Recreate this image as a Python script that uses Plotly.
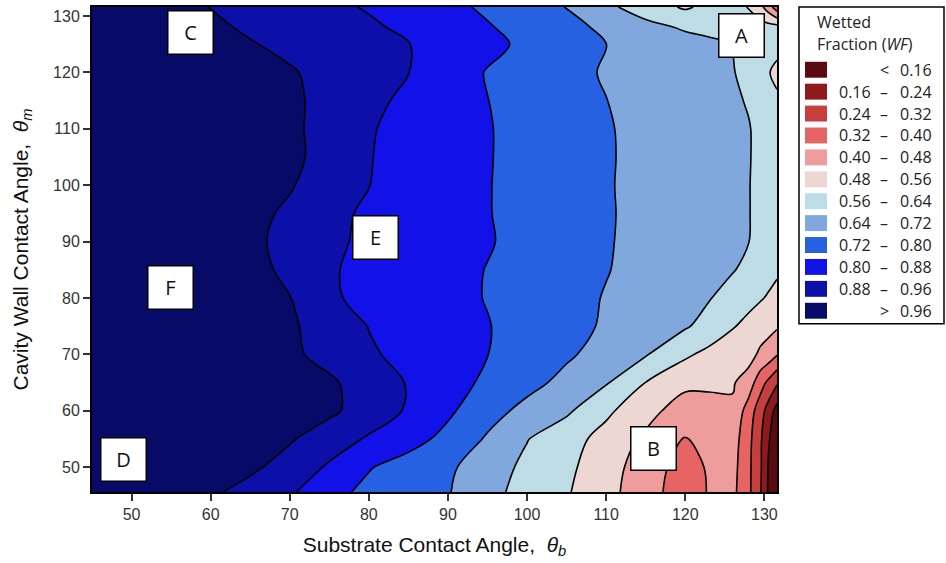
import plotly.graph_objects as go

# ---------------- data ----------------
theta_b = [45, 50, 55, 60, 65, 70, 75, 80, 85, 90, 95, 100, 105, 110, 115,
           120, 123, 126, 128, 129.5, 130.5, 131.6]
theta_m = [45.6, 50, 55, 60, 65, 70, 75, 80, 85, 90, 95, 100, 105, 110, 115,
           120, 125, 128, 131.6]

wf_45_6 = [0.998, 0.993, 0.985, 0.973, 0.932, 0.891, 0.825, 0.781, 0.753, 0.725, 0.664, 0.612, 0.567, 0.507, 0.431, 0.360, 0.405, 0.420, 0.337, 0.247, 0.151, 0.100]
wf_50 = [1.000, 0.998, 0.995, 0.988, 0.975, 0.928, 0.870, 0.805, 0.768, 0.733, 0.679, 0.622, 0.576, 0.517, 0.437, 0.370, 0.408, 0.427, 0.338, 0.252, 0.155, 0.100]
wf_55 = [1.000, 0.999, 0.997, 0.992, 0.982, 0.968, 0.919, 0.871, 0.829, 0.778, 0.711, 0.643, 0.591, 0.533, 0.465, 0.395, 0.430, 0.438, 0.344, 0.253, 0.169, 0.110]
wf_60 = [1.000, 1.000, 0.998, 0.995, 0.990, 0.985, 0.975, 0.924, 0.871, 0.813, 0.750, 0.697, 0.653, 0.575, 0.508, 0.440, 0.450, 0.469, 0.363, 0.277, 0.208, 0.130]
wf_65 = [1.000, 1.000, 0.999, 0.997, 0.993, 0.985, 0.972, 0.924, 0.875, 0.830, 0.786, 0.744, 0.698, 0.647, 0.559, 0.500, 0.495, 0.487, 0.445, 0.351, 0.304, 0.250]
wf_70 = [1.000, 1.000, 0.999, 0.995, 0.988, 0.975, 0.935, 0.890, 0.858, 0.829, 0.801, 0.766, 0.731, 0.690, 0.646, 0.573, 0.539, 0.509, 0.510, 0.465, 0.445, 0.405]
wf_75 = [1.000, 1.000, 0.999, 0.996, 0.988, 0.972, 0.923, 0.878, 0.853, 0.828, 0.803, 0.773, 0.742, 0.712, 0.680, 0.648, 0.613, 0.566, 0.538, 0.518, 0.505, 0.490]
wf_80 = [1.000, 1.000, 0.999, 0.996, 0.988, 0.962, 0.888, 0.865, 0.843, 0.820, 0.797, 0.770, 0.743, 0.716, 0.688, 0.661, 0.644, 0.611, 0.585, 0.566, 0.553, 0.540]
wf_85 = [1.000, 1.000, 0.999, 0.995, 0.982, 0.945, 0.886, 0.864, 0.842, 0.820, 0.798, 0.773, 0.748, 0.723, 0.698, 0.674, 0.659, 0.644, 0.624, 0.601, 0.586, 0.570]
wf_90 = [1.000, 1.000, 0.998, 0.993, 0.976, 0.938, 0.891, 0.869, 0.848, 0.827, 0.805, 0.780, 0.752, 0.725, 0.701, 0.678, 0.664, 0.650, 0.641, 0.625, 0.613, 0.600]
wf_95 = [1.000, 1.000, 0.998, 0.993, 0.980, 0.948, 0.895, 0.871, 0.849, 0.826, 0.803, 0.777, 0.752, 0.726, 0.702, 0.679, 0.665, 0.651, 0.642, 0.627, 0.614, 0.600]
wf_100 = [1.000, 1.000, 0.998, 0.994, 0.985, 0.966, 0.923, 0.881, 0.854, 0.829, 0.803, 0.777, 0.751, 0.725, 0.702, 0.679, 0.665, 0.651, 0.642, 0.627, 0.614, 0.600]
wf_105 = [1.000, 1.000, 0.998, 0.994, 0.986, 0.978, 0.932, 0.883, 0.856, 0.830, 0.804, 0.777, 0.752, 0.726, 0.702, 0.680, 0.666, 0.652, 0.643, 0.628, 0.614, 0.600]
wf_110 = [1.000, 1.000, 0.998, 0.994, 0.986, 0.976, 0.932, 0.886, 0.857, 0.830, 0.804, 0.777, 0.751, 0.725, 0.702, 0.679, 0.665, 0.651, 0.643, 0.627, 0.614, 0.600]
wf_115 = [1.000, 1.000, 0.998, 0.994, 0.986, 0.975, 0.936, 0.899, 0.864, 0.832, 0.801, 0.774, 0.748, 0.721, 0.698, 0.676, 0.662, 0.648, 0.636, 0.609, 0.590, 0.570]
wf_120 = [1.000, 1.000, 0.998, 0.993, 0.982, 0.967, 0.937, 0.909, 0.881, 0.837, 0.796, 0.768, 0.740, 0.714, 0.692, 0.670, 0.657, 0.644, 0.618, 0.586, 0.564, 0.545]
wf_125 = [1.000, 1.000, 0.995, 0.985, 0.965, 0.942, 0.922, 0.902, 0.882, 0.850, 0.818, 0.786, 0.754, 0.721, 0.696, 0.670, 0.655, 0.639, 0.620, 0.600, 0.590, 0.580]
wf_128 = [1.000, 0.998, 0.990, 0.975, 0.949, 0.930, 0.910, 0.891, 0.866, 0.836, 0.806, 0.773, 0.741, 0.706, 0.665, 0.630, 0.620, 0.610, 0.600, 0.595, 0.590, 0.590]
wf_131_6 = [1.000, 0.998, 0.990, 0.958, 0.937, 0.917, 0.896, 0.874, 0.846, 0.818, 0.788, 0.753, 0.718, 0.658, 0.600, 0.550, 0.580, 0.575, 0.558, 0.500, 0.440, 0.350]

wf = [wf_45_6, wf_50, wf_55, wf_60, wf_65, wf_70, wf_75, wf_80, wf_85, wf_90,
      wf_95, wf_100, wf_105, wf_110, wf_115, wf_120, wf_125, wf_128, wf_131_6]

levels = [0.16, 0.24, 0.32, 0.40, 0.48, 0.56, 0.64, 0.72, 0.80, 0.88, 0.96]
band_colors = ['#5c0a10', '#8e1a1e', '#c63e3e', '#e66464', '#ee9c9c', '#ecd7d2',
               '#bddce6', '#80a8dc', '#2561e0', '#1212e8', '#0c10a8', '#080a68']
legend_left = ['', '0.16', '0.24', '0.32', '0.40', '0.48', '0.56', '0.64', '0.72', '0.80', '0.88', '']
legend_mid = ['<', '–', '–', '–', '–', '–', '–', '–', '–', '–', '–', '>']
legend_right = ['0.16', '0.24', '0.32', '0.40', '0.48', '0.56', '0.64', '0.72', '0.80', '0.88', '0.96', '0.96']

x_ticks = [50, 60, 70, 80, 90, 100, 110, 120, 130]
y_ticks = [50, 60, 70, 80, 90, 100, 110, 120, 130]

box_labels = ['A', 'B', 'C', 'D', 'E', 'F']
box_x = [127.1, 116.0, 57.4, 49.0, 80.8, 54.9]
box_y = [126.6, 53.3, 127.0, 51.3, 90.8, 81.9]

# ---------------- figure ----------------
W, H = 946, 563
L, R, T, B = 92, 169, 5, 71
PW, PH = W - L - R, H - T - B


def px_x(p):
    return (p - L) / PW


def px_y(p):
    return (H - B - p) / PH


# stepped colour scale: band k occupies [(k-0.25)/11, (k+0.75)/11]
n = len(band_colors)
m = n - 1
bounds = [0.0] + [(k - 0.25) / m for k in range(1, n)] + [1.0]
colorscale = []
for k, c in enumerate(band_colors):
    colorscale.append([bounds[k], c])
    colorscale.append([bounds[k + 1], c])

step = round(levels[1] - levels[0], 4)

fig = go.Figure(go.Contour(
    x=theta_b, y=theta_m, z=wf,
    autocontour=False,
    contours=dict(start=levels[0], end=levels[-1], size=step,
                  coloring='fill', showlines=True),
    line=dict(color='black', width=1.6, smoothing=1),
    colorscale=colorscale, showscale=False, hoverinfo='skip'))

font_ax = 'Liberation Sans, Arial, sans-serif'
axis_common = dict(showgrid=False, zeroline=False, showline=True, mirror=True,
                   linecolor='black', linewidth=2, ticks='outside', ticklen=7,
                   tickwidth=1.5, tickcolor='#333',
                   tickfont=dict(family=font_ax, size=16, color='#333'))

fig.update_layout(
    width=W, height=H,
    margin=dict(l=L, r=R, t=T, b=B),
    paper_bgcolor='white', plot_bgcolor='white',
    xaxis=dict(range=[theta_b[0], theta_b[-1]], tickvals=x_ticks,
               title=dict(text='Substrate Contact Angle,  <i>θ</i><sub><i>b</i></sub>',
                          font=dict(family=font_ax, size=21, color='#111'), standoff=15),
               **axis_common),
    yaxis=dict(range=[theta_m[0], theta_m[-1]], tickvals=y_ticks,
               title=dict(text='Cavity Wall Contact Angle,  <i>θ</i><sub><i>m</i></sub>',
                          font=dict(family=font_ax, size=21, color='#111'), standoff=19),
               **axis_common),
    showlegend=False,
)

annotations = []
for lab, bx, by in zip(box_labels, box_x, box_y):
    annotations.append(dict(x=bx, y=by, xref='x', yref='y', text=lab, showarrow=False,
                            width=40, height=38, borderpad=2, borderwidth=1.5,
                            bordercolor='black', bgcolor='white',
                            font=dict(family='Open Sans, sans-serif', size=20, color='#111')))

shapes = []
# legend frame
shapes.append(dict(type='rect', xref='paper', yref='paper',
                   x0=px_x(799), x1=px_x(944), y0=px_y(323), y1=px_y(5),
                   line=dict(color='black', width=1.5), fillcolor='white', layer='above'))

leg_font = dict(family='Open Sans, sans-serif', size=16, color='#222')
annotations.append(dict(x=px_x(815), y=px_y(20), xref='paper', yref='paper', text='Wetted',
                        showarrow=False, xanchor='left', yanchor='middle', font=leg_font))
annotations.append(dict(x=px_x(815), y=px_y(42), xref='paper', yref='paper',
                        text='Fraction (<i>WF</i>)',
                        showarrow=False, xanchor='left', yanchor='middle', font=leg_font))

for k, c in enumerate(band_colors):
    cy = 68 + 22 * k
    shapes.append(dict(type='rect', xref='paper', yref='paper',
                       x0=px_x(805), x1=px_x(827), y0=px_y(cy + 8), y1=px_y(cy - 8),
                       line=dict(width=0), fillcolor=c, layer='above'))
    if legend_left[k]:
        annotations.append(dict(x=px_x(837), y=px_y(cy), xref='paper', yref='paper',
                                text=legend_left[k], showarrow=False, xanchor='left',
                                yanchor='middle', font=leg_font))
    annotations.append(dict(x=px_x(884), y=px_y(cy), xref='paper', yref='paper',
                            text=legend_mid[k], showarrow=False, xanchor='center',
                            yanchor='middle', font=leg_font))
    annotations.append(dict(x=px_x(934), y=px_y(cy), xref='paper', yref='paper',
                            text=legend_right[k], showarrow=False, xanchor='right',
                            yanchor='middle', font=leg_font))

fig.update_layout(annotations=annotations, shapes=shapes)
fig.write_html('out.html', config={'displayModeBar': False},
               post_script="document.body.style.margin='0';document.body.style.padding='0';")
